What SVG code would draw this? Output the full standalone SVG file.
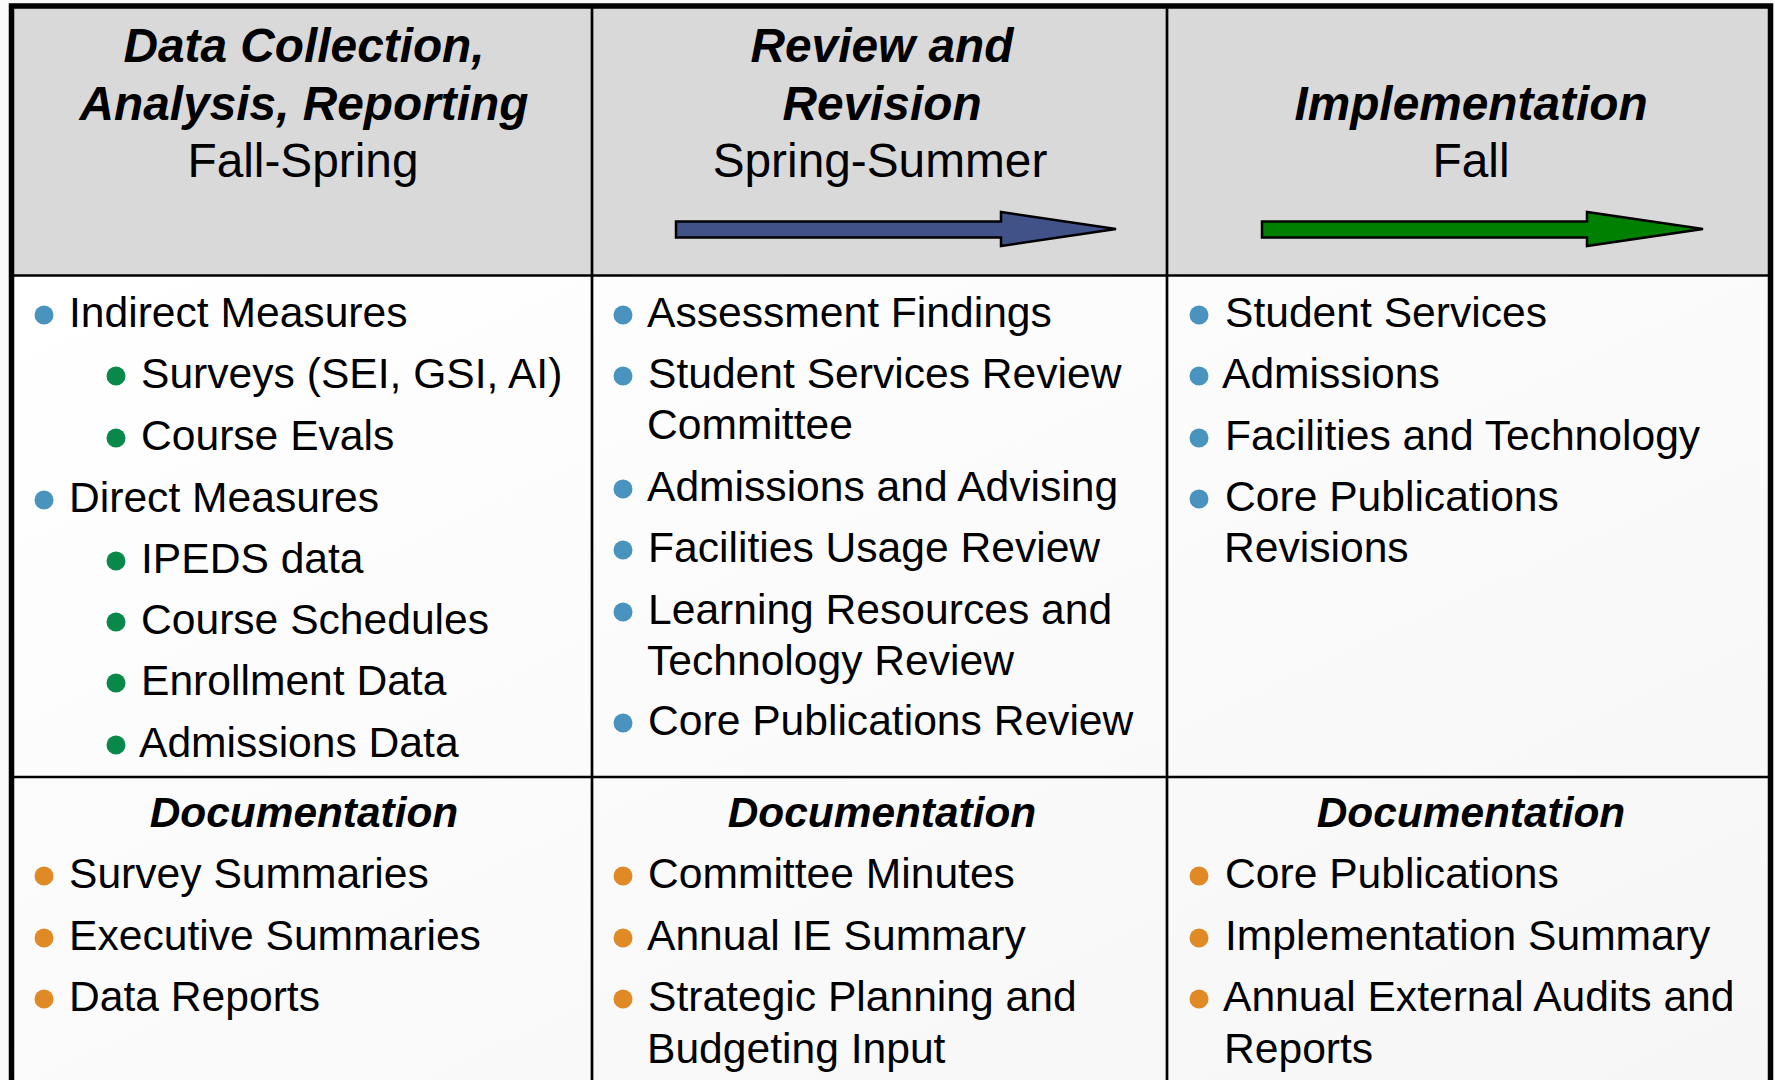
<svg xmlns="http://www.w3.org/2000/svg" width="1775" height="1080" viewBox="0 0 1775 1080">
<defs>
<style>
.hd{font-family:"Liberation Sans",Arial,sans-serif;font-size:47.8px;fill:#000;text-anchor:middle}
.hb{font-weight:bold;font-style:italic}
.tx{font-family:"Liberation Sans",Arial,sans-serif;font-size:42.6px;fill:#000}
.doc{font-family:"Liberation Sans",Arial,sans-serif;font-size:42.4px;font-weight:bold;font-style:italic;fill:#000;text-anchor:middle}
.b1{fill:#4894BE}
.b2{fill:#08894A}
.b3{fill:#E08A26}
.thin{stroke:#000;stroke-width:2.7;fill:none}
.arrow{stroke:#000;stroke-width:2.5;stroke-linejoin:miter}
</style>
<linearGradient id="bodyg" x1="0" y1="0" x2="1" y2="1">
<stop offset="0" stop-color="#ffffff"/>
<stop offset="1" stop-color="#f6f6f6"/>
</linearGradient>
</defs>
<rect x="0" y="0" width="1775" height="1080" fill="#fafafa"/>
<g id="table">
<rect x="11.5" y="6" width="1759" height="270" fill="#d9d9d9"/>
<rect x="11.5" y="276" width="1759" height="810" fill="url(#bodyg)"/>
<line class="thin" x1="11.5" y1="275.5" x2="1770.5" y2="275.5"/>
<line class="thin" x1="11.5" y1="777" x2="1770.5" y2="777"/>
<line class="thin" x1="592" y1="6" x2="592" y2="1085"/>
<line class="thin" x1="1167" y1="6" x2="1167" y2="1085"/>
<path d="M11.5 1085 V6 H1770.5 V1085" fill="none" stroke="#000" stroke-width="5.5"/>
</g>
<g id="header-data">
<text class="hd hb" x="304" y="62">Data Collection,</text>
<text class="hd hb" x="304" y="120">Analysis, Reporting</text>
<text class="hd" x="303" y="177">Fall-Spring</text>
</g>
<g id="header-review">
<text class="hd hb" x="882" y="62">Review and</text>
<text class="hd hb" x="882" y="120">Revision</text>
<text class="hd" x="880" y="177">Spring-Summer</text>
</g>
<g id="header-impl">
<text class="hd hb" x="1471" y="120">Implementation</text>
<text class="hd" x="1471" y="177">Fall</text>
</g>
<g id="connectors">
<polygon class="arrow" fill="#415289" points="676,221.5 1001,221.5 1001,212 1116,229 1001,246 1001,237.5 676,237.5"/>
<polygon class="arrow" fill="#008000" points="1262,221.5 1587,221.5 1587,212 1703,229 1587,246 1587,237.5 1262,237.5"/>
</g>
<g id="measures">
<circle class="b1" cx="44" cy="315" r="9.5"/><text class="tx" x="69" y="327">Indirect Measures</text>
<circle class="b2" cx="116" cy="376" r="9.5"/><text class="tx" x="141" y="388">Surveys (SEI, GSI, AI)</text>
<circle class="b2" cx="116" cy="438" r="9.5"/><text class="tx" x="141" y="450">Course Evals</text>
<circle class="b1" cx="44" cy="500" r="9.5"/><text class="tx" x="69" y="512">Direct Measures</text>
<circle class="b2" cx="116" cy="561" r="9.5"/><text class="tx" x="141" y="573">IPEDS data</text>
<circle class="b2" cx="116" cy="622" r="9.5"/><text class="tx" x="141" y="634">Course Schedules</text>
<circle class="b2" cx="116" cy="683" r="9.5"/><text class="tx" x="141" y="695">Enrollment Data</text>
<circle class="b2" cx="116" cy="745" r="9.5"/><text class="tx" x="139" y="757">Admissions Data</text>
</g>
<g id="review-items">
<circle class="b1" cx="623" cy="315" r="9.5"/><text class="tx" x="647" y="327">Assessment Findings</text>
<circle class="b1" cx="623" cy="376" r="9.5"/><text class="tx" x="648" y="388">Student Services Review</text>
<text class="tx" x="647" y="439">Committee</text>
<circle class="b1" cx="623" cy="489" r="9.5"/><text class="tx" x="647" y="501">Admissions and Advising</text>
<circle class="b1" cx="623" cy="550" r="9.5"/><text class="tx" x="648" y="562">Facilities Usage Review</text>
<circle class="b1" cx="623" cy="612" r="9.5"/><text class="tx" x="648" y="624">Learning Resources and</text>
<text class="tx" x="647" y="675">Technology Review</text>
<circle class="b1" cx="623" cy="723" r="9.5"/><text class="tx" x="648" y="735">Core Publications Review</text>
</g>
<g id="impl-items">
<circle class="b1" cx="1199" cy="315" r="9.5"/><text class="tx" x="1225" y="327">Student Services</text>
<circle class="b1" cx="1199" cy="376" r="9.5"/><text class="tx" x="1222" y="388">Admissions</text>
<circle class="b1" cx="1199" cy="438" r="9.5"/><text class="tx" x="1225" y="450">Facilities and Technology</text>
<circle class="b1" cx="1199" cy="499" r="9.5"/><text class="tx" x="1225" y="511">Core Publications</text>
<text class="tx" x="1224" y="562">Revisions</text>
</g>
<g id="doc-data">
<text class="doc" x="304" y="827">Documentation</text>
<circle class="b3" cx="44" cy="876" r="9.5"/><text class="tx" x="69" y="888">Survey Summaries</text>
<circle class="b3" cx="44" cy="938" r="9.5"/><text class="tx" x="69" y="950">Executive Summaries</text>
<circle class="b3" cx="44" cy="999" r="9.5"/><text class="tx" x="69" y="1011">Data Reports</text>
</g>
<g id="doc-review">
<text class="doc" x="882" y="827">Documentation</text>
<circle class="b3" cx="623" cy="876" r="9.5"/><text class="tx" x="648" y="888">Committee Minutes</text>
<circle class="b3" cx="623" cy="938" r="9.5"/><text class="tx" x="647" y="950">Annual IE Summary</text>
<circle class="b3" cx="623" cy="999" r="9.5"/><text class="tx" x="648" y="1011">Strategic Planning and</text>
<text class="tx" x="647" y="1063">Budgeting Input</text>
</g>
<g id="doc-impl">
<text class="doc" x="1471" y="827">Documentation</text>
<circle class="b3" cx="1199" cy="876" r="9.5"/><text class="tx" x="1225" y="888">Core Publications</text>
<circle class="b3" cx="1199" cy="938" r="9.5"/><text class="tx" x="1225" y="950">Implementation Summary</text>
<circle class="b3" cx="1199" cy="999" r="9.5"/><text class="tx" x="1223" y="1011">Annual External Audits and</text>
<text class="tx" x="1224" y="1063">Reports</text>
</g>
</svg>
